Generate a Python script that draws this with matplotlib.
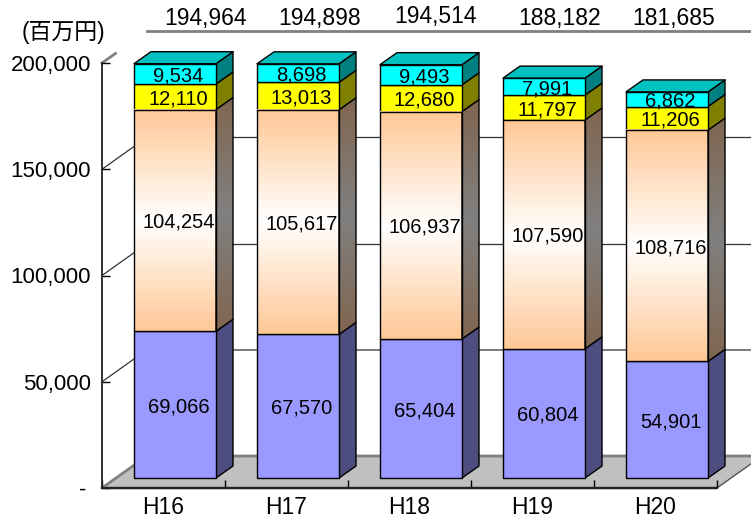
"""
Stacked pseudo-3D bar chart of spending per fiscal year (H16 to H20).
"""

import matplotlib

matplotlib.use("Agg")
import matplotlib.pyplot as plt
import numpy as np

from matplotlib.colors import LinearSegmentedColormap
from matplotlib.patches import Polygon
from matplotlib.ticker import FuncFormatter

years = ["H16", "H17", "H18", "H19", "H20"]
series_bottom = [69066, 67570, 65404, 60804, 54901]
series_middle = [104254, 105617, 106937, 107590, 108716]
series_upper = [12110, 13013, 12680, 11797, 11206]
series_top = [9534, 8698, 9493, 7991, 6862]
totals = [194964, 194898, 194514, 188182, 181685]
y_ticks = [0, 50000, 100000, 150000, 200000]

# pixel layout of the 751x519 figure
width_px, height_px = 751, 519
axis_left, axis_right, axis_top, axis_bottom = 102, 717, 63, 488
total_label_px = [(206, 19), (320, 19), (435, 17), (560, 19), (674, 19)]

px_x = (axis_right - axis_left) / len(years)  # pixels per category
px_y = (axis_bottom - axis_top) / 200000  # pixels per unit of value

# depth of the walls and of the bars, offset of the bars from the front edge
wall_dx, wall_dy = 45 / px_x, 32 / px_y
bar_dx, bar_dy = 17 / px_x, 12 / px_y
shift_x, shift_y = 11.5 / px_x, 10 / px_y
bar_width = 82 / px_x

plt.rcParams["font.family"] = ["Liberation Sans", "Noto Sans CJK JP"]

fig = plt.figure(figsize=(width_px / 100, height_px / 100), dpi=100)
ax = fig.add_axes(
    [
        axis_left / width_px,
        1 - axis_bottom / height_px,
        (axis_right - axis_left) / width_px,
        (axis_bottom - axis_top) / height_px,
    ]
)
x0, x1 = -0.5, len(years) - 0.5
far_right = x1 + 2 * wall_dx


def add_face(points, color, zorder, edge="black", linewidth=1.0):
    face = Polygon(
        points,
        closed=True,
        facecolor=color,
        edgecolor=edge,
        linewidth=linewidth,
        zorder=zorder,
        clip_on=False,
        joinstyle="round",
    )
    ax.add_patch(face)
    return face


def add_gradient(colors, extent, zorder, clip=None):
    cmap = LinearSegmentedColormap.from_list("face", colors)
    image = ax.imshow(
        np.linspace(0, 1, 200).reshape(-1, 1),
        cmap=cmap,
        extent=extent,
        aspect="auto",
        origin="upper",
        zorder=zorder,
        clip_on=clip is not None,
    )
    if clip is not None:
        image.set_clip_box(fig.bbox)
        image.set_clip_path(clip)


# floor
add_face(
    [
        (x0, 0),
        (far_right, 0),
        (far_right + wall_dx, wall_dy),
        (x0 + wall_dx, wall_dy),
    ],
    "#c0c0c0",
    1,
    edge="#808080",
    linewidth=2.0,
)
ax.plot([x0, x1], [0, 0], color="#222222", lw=1.5, zorder=2, clip_on=False)
ax.plot(
    [x1, x1 + wall_dx], [0, wall_dy], color="#555555", lw=1.0, zorder=1.5, clip_on=False
)
ax.add_patch(
    Polygon(
        [
            (x1, -wall_dy / 4),
            (far_right + 1, -wall_dy / 4),
            (far_right + 1, wall_dy),
            (x1 + wall_dx, wall_dy),
            (x1, 0),
        ],
        closed=True,
        facecolor="white",
        edgecolor="none",
        zorder=1.2,
        clip_on=False,
    )
)

# walls
for value in y_ticks[1:]:
    if value == y_ticks[-1]:
        colour, lw, depth = "#808080", 2.0, 0.3
    elif value == y_ticks[1]:
        colour, lw, depth = "#707070", 1.3, 1.0
    else:
        colour, lw, depth = "#333333", 0.9, 1.0
    ax.plot(
        [x0, x0 + wall_dx * depth],
        [value, value + wall_dy * depth],
        color="#333333" if value == y_ticks[1] else colour,
        lw=0.9 if value == y_ticks[1] else lw,
        zorder=1.5,
        clip_on=False,
    )
    ax.plot(
        [x0 + wall_dx, far_right + wall_dx],
        [value + wall_dy, value + wall_dy],
        color=colour,
        lw=lw,
        zorder=1.5,
        clip_on=False,
    )

# bars
styles = [
    (series_bottom, "#9999ff", "#4d4d80"),
    (series_middle, None, None),
    (series_upper, "#ffff00", "#808000"),
    (series_top, "#00ffff", "#008080"),
]

for i in range(len(years)):
    left = i - bar_width / 2 + shift_x
    right = left + bar_width
    bottom = shift_y
    z = 3 + i * 0.1
    for values, front, side in styles:
        top = bottom + values[i]
        side_points = [
            (right, bottom),
            (right + bar_dx, bottom + bar_dy),
            (right + bar_dx, top + bar_dy),
            (right, top),
        ]
        front_points = [(left, bottom), (right, bottom), (right, top), (left, top)]
        if front is None:
            outline = add_face(side_points, "none", z + 0.02)
            add_gradient(
                ["#806650", "#808080", "#806650"],
                (right, right + bar_dx, bottom, top + bar_dy),
                z + 0.01,
                clip=outline,
            )
            add_gradient(
                ["#ffc896", "#ffffff", "#ffc896"], (left, right, bottom, top), z + 0.01
            )
            add_face(front_points, "none", z + 0.02)
        else:
            add_face(side_points, side, z)
            add_face(front_points, front, z)
        ax.text(
            (left + right) / 2 + 3.5 / px_x,
            (bottom + top) / 2 - 2 / px_y,
            f"{values[i]:,}",
            ha="center",
            va="center",
            fontsize=14.5,
            color="black",
            zorder=6,
        )
        bottom = top
    add_face(
        [
            (left, bottom),
            (right, bottom),
            (right + bar_dx, bottom + bar_dy),
            (left + bar_dx, bottom + bar_dy),
        ],
        "#00c0c0",
        z,
    )

# axes
ax.set_xlim(x0, x1)
ax.set_ylim(y_ticks[0], y_ticks[-1])
ax.patch.set_visible(False)
for name in ("top", "right"):
    ax.spines[name].set_visible(False)
for name in ("left", "bottom"):
    ax.spines[name].set_linewidth(1.3)
    ax.spines[name].set_color("#222222")

ax.set_yticks(y_ticks)
ax.yaxis.set_major_formatter(
    FuncFormatter(lambda v, _: f"{v:,.0f}" if v else "-\u2009")
)
ax.tick_params(axis="y", direction="in", length=6, width=1, labelsize=16, pad=8)

ax.set_xticks(np.arange(x0, x1 + 0.5))
ax.set_xticklabels([])
ax.tick_params(axis="x", which="major", direction="in", length=5.5, width=1)
ax.set_xticks(np.arange(len(years)), minor=True)
ax.set_xticklabels(years, minor=True, fontsize=16.5)
ax.tick_params(axis="x", which="minor", length=0, pad=6)

# totals and unit above the plot
for total, (x, y) in zip(totals, total_label_px):
    fig.text(
        x / width_px,
        1 - y / height_px,
        f"{total:,}",
        ha="center",
        va="center",
        fontsize=16.5,
    )
fig.text(63 / width_px, 1 - 33 / height_px, "(百万円)", ha="center", va="center", fontsize=16.5)

fig.savefig("out.png", dpi=100)
